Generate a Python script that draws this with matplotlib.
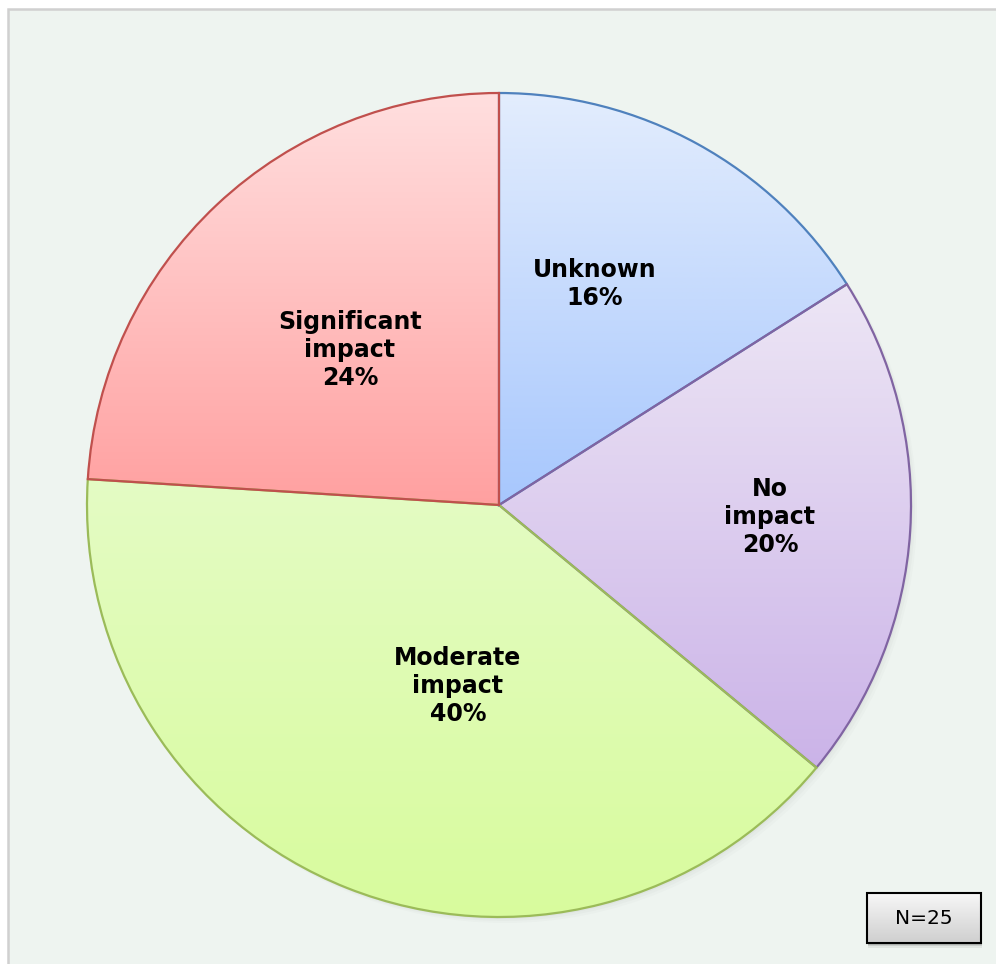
import numpy as np
import matplotlib
matplotlib.use("Agg")
from matplotlib import pyplot as plt
from matplotlib.patches import Rectangle, Circle
from matplotlib.colors import LinearSegmentedColormap

# survey responses (counts, N=25)
categories = ["Unknown", "No\nimpact", "Moderate\nimpact", "Significant\nimpact"]
counts = [4, 5, 10, 6]

# gradient top / bottom and outline per slice
top_colors = ["#e3edfd", "#ede6f5", "#e4fbc4", "#ffdfdf"]
bottom_colors = ["#a7c7fd", "#cbb3e8", "#d8fc9d", "#ffa0a0"]
edge_colors = ["#4f81bd", "#8064a2", "#9bbb59", "#c0504d"]

W, H = 996, 964


def gradient_fill(ax, patch, c_top, c_bot, zorder):
    ext = patch.get_path().get_extents(patch.get_patch_transform())
    cmap = LinearSegmentedColormap.from_list("g", [c_bot, c_top])
    grad = np.linspace(0, 1, 256).reshape(-1, 1)
    im = ax.imshow(grad, cmap=cmap, aspect="auto", origin="lower",
                   extent=[ext.x0, ext.x1, ext.y0, ext.y1], zorder=zorder,
                   interpolation="bilinear")
    im.set_clip_path(patch)


def main():
    fig = plt.figure(figsize=(W / 100, H / 100), dpi=100)
    fig.patch.set_facecolor("white")
    ax = fig.add_axes([0, 0, 1, 1])

    # chart area
    ax.add_patch(Rectangle((8, -50), W + 100, H - 9 + 50, facecolor="#eef4f0",
                           edgecolor="#d0d0d0", linewidth=1.8, zorder=0))

    cx, cy, r = 499, H - 505, 412

    # faint shadow
    for k, a in [(6, 0.03), (4, 0.04), (2, 0.05)]:
        ax.add_patch(Circle((cx + k, cy - k), r, facecolor="#808080",
                            edgecolor="none", alpha=a, zorder=0.5))

    wedges, _ = ax.pie(counts, startangle=90, counterclock=False,
                       center=(cx, cy), radius=r, frame=True,
                       wedgeprops=dict(linewidth=1.6))
    for i, w in enumerate(wedges):
        w.set_facecolor("none")
        w.set_edgecolor(edge_colors[i])
        w.set_zorder(2 + i * 0.01)
        gradient_fill(ax, w, top_colors[i], bottom_colors[i], 1)

    total = sum(counts)
    # label anchor in pixels (x, y from top)
    label_pos = [(595, 284), (770, 517), (458, 686), (350, 350)]
    for cat, c, (lx, ly) in zip(categories, counts, label_pos):
        pct = round(100 * c / total)
        ax.text(lx, H - ly, "%s\n%d%%" % (cat, pct), ha="center", va="center",
                fontsize=17, fontweight="bold", family="DejaVu Sans",
                linespacing=1.23, zorder=5)

    # N box
    bx0, by0, bx1, by1 = 867, H - 943, 981, H - 893
    for k, a in [(5, 0.06), (3, 0.1), (1.5, 0.12)]:
        ax.add_patch(Rectangle((bx0 + 1, by0 - k), bx1 - bx0, by1 - by0,
                               facecolor="black", edgecolor="none", alpha=a, zorder=3))
    box = Rectangle((bx0, by0), bx1 - bx0, by1 - by0, facecolor="none",
                    edgecolor="black", linewidth=1.5, zorder=4.5)
    ax.add_patch(box)
    gradient_fill(ax, box, "#f7f7f7", "#cfcfcf", 4)
    ax.text((bx0 + bx1) / 2, (by0 + by1) / 2, "N=%d" % total, ha="center",
            va="center", fontsize=14.5, zorder=5)

    ax.set_xlim(0, W)
    ax.set_ylim(0, H)
    ax.set_aspect("auto")
    ax.set_axis_off()
    fig.savefig("out.png", dpi=100, facecolor="white")


if __name__ == "__main__":
    main()
